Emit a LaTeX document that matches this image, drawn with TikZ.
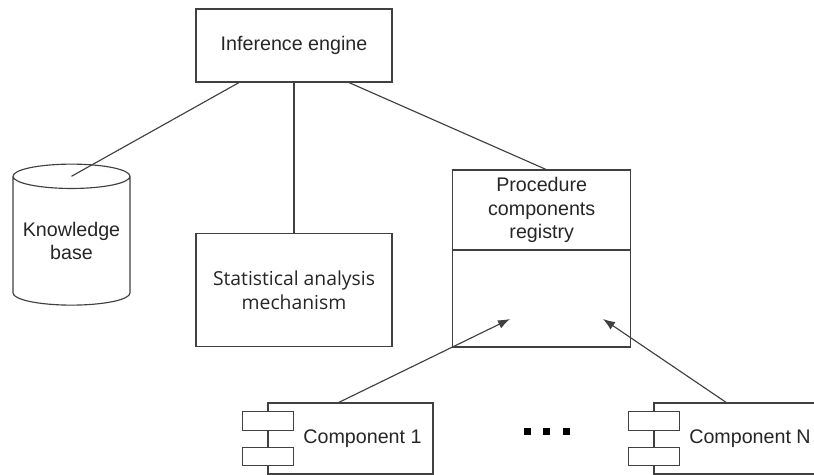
\documentclass[tikz,border=0pt]{standalone}
\usepackage{fontspec}
\setmainfont{Liberation Sans}
\newfontfamily\statfont{Open Sans}
\usetikzlibrary{arrows.meta,calc,shapes.geometric}
\tikzset{
boxnode/.style={draw=black!75,line width=0.65pt,rectangle,inner sep=0pt,align=center,text=black!85,font=\fontsize{11.2}{13.6}\selectfont},
tabnode/.style={boxnode,fill=white,minimum width=51*0.02cm,minimum height=18.5*0.02cm},
dotnode/.style={fill=black,inner sep=0pt,minimum size=7*0.02cm},
link/.style={color=black!75,line width=0.65pt},
linkarrow/.style={link,-{Latex[length=12*0.02cm,width=9*0.02cm]}}
}
\begin{document}
\begin{tikzpicture}[x=0.02cm,y=-0.02cm]
\useasboundingbox (0,0) rectangle (814,475);
\node[boxnode,minimum width=196*0.02cm,minimum height=73*0.02cm] (engine) at (294,45.5) {Inference engine};
\node[boxnode,minimum width=196*0.02cm,minimum height=113*0.02cm,font=\statfont\fontsize{11}{13.6}\selectfont] (stats) at (294,290) {Statistical analysis\\mechanism};
\node[boxnode,cylinder,shape border rotate=90,shape aspect=0.25,minimum width=117*0.02cm,minimum height=141*0.02cm] (kb) at (71.5,241) {Knowledge\\base};
\node[boxnode,minimum width=178*0.02cm,minimum height=80*0.02cm] (regtop) at (541.7,210) {Procedure\\components\\registry};
\node[boxnode,minimum width=178*0.02cm,minimum height=97*0.02cm] (regbody) at (541.7,298.5) {};
\coordinate (kbtop) at ($(kb.before top)!0.5!(kb.after top)$);
\coordinate (P1) at (510,319);
\coordinate (PN) at (603,319);
\foreach \nm/\xx/\sh/\txt in {comp1/350.5/12/Component 1,compN/736.5/13.5/Component N}{
\node[boxnode,minimum width=165*0.02cm,minimum height=71*0.02cm,label={[xshift=\sh*0.02cm,text=black!85,font=\fontsize{11.2}{13.6}\selectfont]center:\txt}] (\nm) at (\xx,438.5) {};
\node[tabnode] (\nm-a) at (\xx-82.5,421) {};
\node[tabnode] (\nm-b) at (\xx-82.5,456.5) {};
}
\foreach \i/\xx in {1/527,2/546,3/566}{
\node[dotnode] (dot\i) at (\xx,432) {};
}
\draw[link] (engine.-146) -- (kbtop);
\draw[link] (engine.south) -- (stats.north);
\draw[link] (engine.-34) -- (regtop.84);
\draw[linkarrow] (comp1.108) -- (P1);
\draw[linkarrow] (compN.106.5) -- (PN);
\end{tikzpicture}
\end{document}
